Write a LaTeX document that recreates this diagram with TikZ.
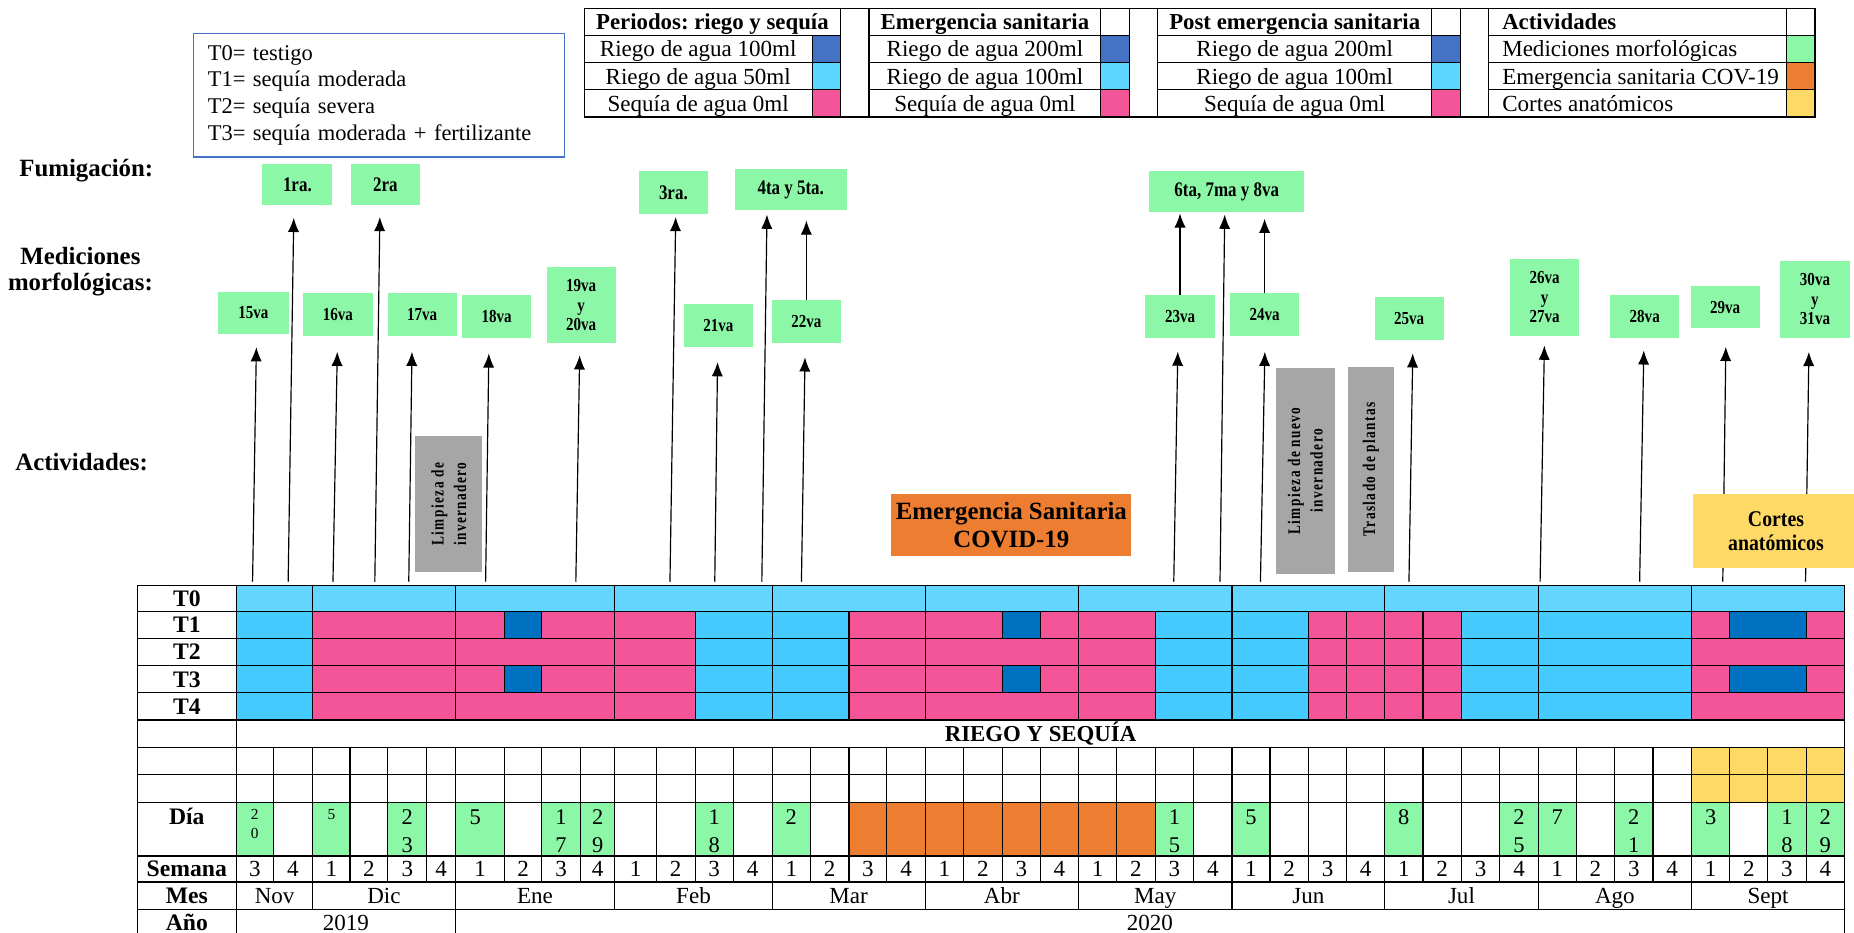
\documentclass[tikz,border=0pt]{standalone}
\usepackage{fontspec}
\setmainfont{Liberation Serif}
\newfontfamily\espaciada[LetterSpace=8.0,FakeStretch=0.75]{Liberation Serif}
\newfontfamily\angosta[FakeStretch=0.82]{Liberation Serif}
\newfontfamily\angostab[FakeStretch=0.88]{Liberation Serif}
\usepackage{tikz}
\usetikzlibrary{arrows.meta,calc}
\frenchspacing

\definecolor{riegoAlto}{HTML}{0070C0}
\definecolor{riegoBajo}{HTML}{45CBFF}
\definecolor{testigo}{HTML}{63D5FF}
\definecolor{sequia}{HTML}{F45599}
\definecolor{leyAzul}{HTML}{4472C4}
\definecolor{leyCeleste}{HTML}{5DD7FF}
\definecolor{medicion}{HTML}{8CF7A6}
\definecolor{covid}{HTML}{ED7D31}
\definecolor{cortes}{HTML}{FFD966}
\definecolor{limpieza}{HTML}{A6A6A6}

\begin{document}
\begin{tikzpicture}[x=1pt,y=-1pt,>={Latex[length=12pt,width=9.5pt]},line width=1pt]
  \tikzstyle{celda}=[inner sep=0pt,text height=13.3pt,text depth=0pt,font=\fontsize{19.5}{22}\selectfont]
  \tikzstyle{cabeza}=[inner sep=0pt,text height=13.3pt,text depth=0pt,font=\fontsize{19.3}{22}\selectfont\bfseries]
  \tikzstyle{fila}=[inner sep=0pt,font=\fontsize{20}{22}\selectfont\bfseries]
  \tikzstyle{titulo}=[inner sep=0pt,align=center,font=\fontsize{21}{22}\selectfont\bfseries]
  \tikzstyle{verde}=[fill=medicion,inner sep=0pt,align=center,minimum width=58.5pt,
                     minimum height=36pt,font=\angosta\fontsize{15.5}{16.5}\selectfont\bfseries]
  \tikzstyle{fumi}=[verde,font=\angosta\fontsize{17.5}{18}\selectfont\bfseries]
  \tikzstyle{gris}=[fill=limpieza,inner sep=0pt,align=center,rotate=90,
                    font=\espaciada\fontsize{15}{19}\selectfont\bfseries]
  \tikzstyle{dia}=[inner sep=0pt,anchor=north,align=center,font=\fontsize{19}{24}\selectfont]
  \tikzstyle{flecha}=[->,line width=1pt]

  \useasboundingbox (0,0) rectangle (1568,789);

  % etiquetas de la izquierda
  \node[titulo] (fum) at (73,144) {Fumigación:};
  \node[titulo] (med) at (68,230) {Mediciones\\morfológicas:};
  \node[titulo] (act) at (69,391) {Actividades:};

  % tratamientos
  \node[draw=leyAzul,line width=1.2pt,text width=289.5pt,inner xsep=12pt,inner ysep=0pt,
        minimum height=104.5pt,align=left,font=\fontsize{19}{22.5}\selectfont] (trat) at (320.5,80.5)
    {T0= testigo\\T1= sequía moderada\\T2= sequía severa\\T3= sequía moderada + fertilizante};

  % leyenda de colores
  \draw (494,7) rectangle (1535,99);
  \foreach \x in {711,735,931,955,979,1211,1235,1259,1511}
    \draw (\x,7) -- (\x,99);
  \draw (687,30) -- (687,99);
  \foreach \a/\b in {494/711,735/955,979/1235,1259/1535}
    \foreach \y in {30,53,76}
      \draw (\a,\y) -- (\b,\y);
  \foreach \a/\b in {687/711,931/955,1211/1235}{
    \draw[fill=leyAzul] (\a,30) rectangle (\b,53);
    \draw[fill=leyCeleste] (\a,53) rectangle (\b,76);
    \draw[fill=sequia] (\a,76) rectangle (\b,99);
  }
  \draw[fill=medicion] (1511,30) rectangle (1535,53);
  \draw[fill=covid] (1511,53) rectangle (1535,76);
  \draw[fill=cortes] (1511,76) rectangle (1535,99);

  \node[cabeza] (cab1) at (602.5,18.5) {Periodos: riego y sequía};
  \node[cabeza] (cab2) at (833,18.5) {Emergencia sanitaria};
  \node[cabeza] (cab3) at (1095,18.5) {Post emergencia sanitaria};
  \node[cabeza,anchor=west] (cab4) at (1270,18.5) {Actividades};
  \foreach \cx/\ta/\tb [count=\i] in {590.5/100/50, 833/200/100, 1095/200/100}{
    \node[celda] (ley\i-a) at (\cx,41.5) {Riego de agua \ta ml};
    \node[celda] (ley\i-b) at (\cx,64.5) {Riego de agua \tb ml};
    \node[celda] (ley\i-c) at (\cx,87.5) {Sequía de agua 0ml};
  }
  \node[celda,anchor=west] (ley4-a) at (1270,41.5) {Mediciones morfológicas};
  \node[celda,anchor=west] (ley4-b) at (1270,64.5) {Emergencia sanitaria COV-19};
  \node[celda,anchor=west] (ley4-c) at (1270,87.5) {Cortes anatómicos};

  % fumigaciones
  \node[fumi,minimum width=59pt,minimum height=34pt] (f1) at (251.5,156) {1ra.};
  \node[fumi,minimum width=58pt,minimum height=34pt] (f2) at (326,156) {2ra};
  \node[fumi,minimum width=59pt] (f3) at (569.5,163) {3ra.};
  \node[fumi,minimum width=94.5pt,minimum height=35pt] (f45) at (668.75,160.5) {4ta y 5ta.};
  \node[fumi,minimum width=131pt,minimum height=34pt] (f678) at (1037.5,162) {6ta, 7ma y 8va};

  % mediciones morfologicas
  \node[verde,minimum width=59.5pt] (m15) at (214.25,264.6) {15va};
  \node[verde,minimum width=59.5pt] (m16) at (285.8,266) {16va};
  \node[verde] (m17) at (357,266) {17va};
  \node[verde] (m18) at (420,267.8) {18va};
  \node[verde,minimum height=64pt] (m19) at (491.5,258) {19va\\y\\20va};
  \node[verde] (m21) at (607.5,275.25) {21va};
  \node[verde] (m22) at (682,272) {22va};
  \node[verde] (m23) at (998,267.8) {23va};
  \node[verde] (m24) at (1069.5,266) {24va};
  \node[verde] (m25) at (1191.75,269.3) {25va};
  \node[verde,minimum height=65pt] (m26) at (1306.25,251.5) {26va\\y\\27va};
  \node[verde] (m28) at (1391,267.8) {28va};
  \node[verde] (m29) at (1459,259.8) {29va};
  \node[verde,minimum height=65pt] (m30) at (1535,253.2) {30va\\y\\31va};

  % actividades
  \node[gris,minimum width=115pt,minimum height=57pt] (g1) at (379.5,426.4) {Limpieza de\\invernadero};
  \node[gris,minimum width=174.5pt,minimum height=50pt] (g2) at (1104,398.25) {Limpieza de nuevo\\invernadero};
  \node[gris,minimum width=174pt,minimum height=38.7pt] (g3) at (1159.35,397) {Traslado de plantas};
  \node[fill=covid,inner sep=1pt,minimum width=203pt,minimum height=52pt,align=center,
        font=\fontsize{21}{24}\selectfont\bfseries] (covidbox) at (855.35,444) {Emergencia Sanitaria\\COVID-19};

  % flechas desde la tabla
  \foreach \x/\dx/\dest/\gap in {213.6/3.4/m15/10.5, 243.7/4.9/f1/10.7, 281.6/3.9/m16/13,
      317/4.4/f2/10, 345.7/2.9/m17/13, 410.7/2.9/m18/12.6, 487/3.4/m19/10, 566.6/4.9/f3/2,
      604.5/2.5/m21/12.5, 644.3/4.4/f45/3, 677.8/3.2/m22/11.7, 992.7/3.6/m23/11,
      1031.8/4/f678/2, 1066/4/m24/13, 1191.6/3.4/m25/11, 1302.5/3.8/m26/7.8,
      1386.7/3.7/m28/10, 1457/2.8/m29/15, 1527/3/m30/11.4}{
    \coordinate (a\dest) at (\x,492);
    \draw[flecha,shorten >=\gap pt] (a\dest) -- ($(a\dest |- \dest.south)+(\dx,0)$);
  }
  \draw[flecha,shorten >=8pt] (m22.north) -- (m22.north |- f45.south);
  \draw[flecha,shorten >=1pt] (m23.north) -- (m23.north |- f678.south);
  \draw[flecha,shorten >=5.5pt] (m24.north) -- (m24.north |- f678.south);

  \node[fill=cortes,inner sep=1pt,minimum width=140pt,minimum height=62.5pt,align=center,
        font=\angostab\fontsize{19}{21}\selectfont\bfseries] (cortesbox) at (1502,449.25) {Cortes\\anatómicos};

  % filas T0 a T4
  \foreach \a/\b in {200/264.5,264.5/385,385/520,520/653,653/782.5,782.5/912,912/1042,
                     1042/1171,1171/1301,1301/1430.5,1430.5/1560}
    \draw[fill=testigo] (\a,495) rectangle (\b,517);
  \foreach \y in {517,563}
    \foreach \a/\b/\c in {200/264.5/riegoBajo, 264.5/385/sequia, 385/427/sequia, 427/458/riegoAlto,
        458/520/sequia, 520/588/sequia, 588/653/riegoBajo, 653/718/riegoBajo, 718/782.5/sequia,
        782.5/847.5/sequia, 847.5/880/riegoAlto, 880/912/sequia, 912/977/sequia, 977/1042/riegoBajo,
        1042/1106.5/riegoBajo, 1106.5/1139/sequia, 1139/1171/sequia, 1171/1203.5/sequia,
        1203.5/1236/sequia, 1236/1301/riegoBajo, 1301/1430.5/riegoBajo, 1430.5/1463/sequia,
        1463/1527.5/riegoAlto, 1527.5/1560/sequia}
      \draw[fill=\c] (\a,\y) rectangle (\b,{\y+23});
  \foreach \y in {540,586}
    \foreach \a/\b/\c in {200/264.5/riegoBajo, 264.5/385/sequia, 385/520/sequia, 520/588/sequia,
        588/653/riegoBajo, 653/718/riegoBajo, 718/782.5/sequia, 782.5/912/sequia, 912/977/sequia,
        977/1042/riegoBajo, 1042/1106.5/riegoBajo, 1106.5/1139/sequia, 1139/1171/sequia,
        1171/1203.5/sequia, 1203.5/1236/sequia, 1236/1301/riegoBajo, 1301/1430.5/riegoBajo,
        1430.5/1560/sequia}
      \draw[fill=\c] (\a,\y) rectangle (\b,{\y+23});

  % columna de etiquetas
  \foreach \ya/\yb in {495/517,517/540,540/563,563/586,586/609,609/632,632/655,655/679,
                       679/724,724/746,746/769,769/791}
    \draw (116,\ya) rectangle (200,\yb);
  \foreach \t/\y [count=\i] in {T0/506,T1/528.5,T2/551.5,T3/574.5,T4/597.5,Semana/735,Mes/757.5,Año/780}
    \node[fila] (fila\i) at (158,\y) {\t};
  \node[fila,anchor=north] (filaDia) at (158,683) {Día};

  % riego y sequia
  \draw (200,609) rectangle (1560,632);
  \node[fila,font=\fontsize{19.3}{22}\selectfont\bfseries] (riego) at (880,620.5) {RIEGO Y SEQUÍA};

  % dias
  \foreach \a/\b in {200/231, 264.5/296, 328/361, 385/427, 458/491, 491/520, 588/620, 653/685.5,
      977/1009.5, 1042/1074, 1171/1203.5, 1268.5/1301, 1301/1333, 1365.5/1398, 1430.5/1463,
      1495/1527.5, 1527.5/1560}
    \fill[medicion] (\a,679) rectangle (\b,724);
  \fill[covid] (718,679) rectangle (977,724);
  \fill[cortes] (1430.5,632) rectangle (1560,679);

  % semanas
  \foreach \a/\b/\s [count=\k] in {200/231/3, 231/264.5/4, 264.5/296/1, 296/328/2, 328/361/3,
      361/385/4, 385/427/1, 427/458/2, 458/491/3, 491/520/4, 520/555/1, 555/588/2, 588/620/3,
      620/653/4, 653/685.5/1, 685.5/718/2, 718/750/3, 750/782.5/4, 782.5/815/1, 815/847.5/2,
      847.5/880/3, 880/912/4, 912/944.5/1, 944.5/977/2, 977/1009.5/3, 1009.5/1042/4,
      1042/1074/1, 1074/1106.5/2, 1106.5/1139/3, 1139/1171/4, 1171/1203.5/1, 1203.5/1236/2,
      1236/1268.5/3, 1268.5/1301/4, 1301/1333/1, 1333/1365.5/2, 1365.5/1398/3, 1398/1430.5/4,
      1430.5/1463/1, 1463/1495/2, 1495/1527.5/3, 1527.5/1560/4}{
    \draw (\a,632) rectangle (\b,655) (\a,655) rectangle (\b,679)
          (\a,679) rectangle (\b,724) (\a,724) rectangle (\b,746);
    \node[celda] (sem\k) at ({(\a+\b)/2},735) {\s};
  }
  \foreach \x/\d [count=\i] in {344.5/{2\\3}, 402/5, 474.5/{1\\7}, 505.5/{2\\9}, 604/{1\\8},
      669.25/2, 993.25/{1\\5}, 1058/5, 1187.25/8, 1284.75/{2\\5}, 1317/7, 1381.75/{2\\1},
      1446.75/3, 1511.25/{1\\8}, 1543.75/{2\\9}}
    \node[dia] (dia\i) at (\x,684) {\d};
  \node[dia,font=\fontsize{13}{16}\selectfont] (diaNov) at (215.5,684) {2\\0};
  \node[dia,font=\fontsize{13}{16}\selectfont] (diaDic) at (280.25,684) {5};

  % meses y anios
  \foreach \a/\b/\m [count=\i] in {200/264.5/Nov, 264.5/385/Dic, 385/520/Ene, 520/653/Feb,
      653/782.5/Mar, 782.5/912/Abr, 912/1042/May, 1042/1171/Jun, 1171/1301/Jul,
      1301/1430.5/Ago, 1430.5/1560/Sept}{
    \draw (\a,746) rectangle (\b,769);
    \node[celda] (mes\i) at ({(\a+\b)/2},757.5) {\m};
  }
  \draw (200,769) rectangle (385,791) (385,769) rectangle (1560,791);
  \node[celda] (anio1) at (292.5,780) {2019};
  \node[celda] (anio2) at (972.5,780) {2020};
\end{tikzpicture}
\end{document}
